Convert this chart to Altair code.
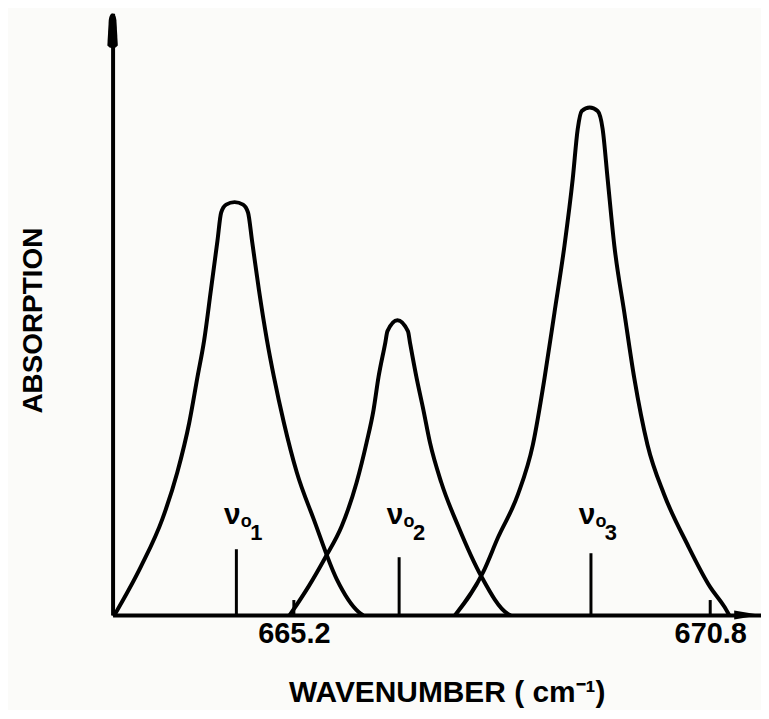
import altair as alt
import pandas as pd

# ---- data: wavenumber (cm^-1) and absorption (arb. units) ----
p1_w = [662.788, 663.146, 663.430, 663.632, 663.793, 663.904, 663.994, 664.084, 664.173, 664.222,
        664.289, 664.403, 664.517, 664.584, 664.637, 664.731, 664.838, 664.932, 665.066, 665.240,
        665.468, 665.776, 666.071, 666.124]
p1_a = [0, 0.49, 0.96, 1.43, 1.93, 2.39, 2.76, 3.26, 3.76, 4.04,
        4.12, 4.145, 4.12, 4.04, 3.76, 3.26, 2.76, 2.39, 1.93, 1.43,
        0.96, 0.36, 0.03, 0]

p2_w = [665.146, 665.401, 665.625, 665.843, 666.044, 666.178, 666.272, 666.339, 666.429, 666.459,
        666.593, 666.734, 666.763, 666.848, 666.942, 667.031, 667.183, 667.411, 667.719, 668.080,
        668.107]
p2_a = [0, 0.29, 0.58, 0.89, 1.33, 1.73, 2.06, 2.39, 2.73, 2.85,
        2.96, 2.85, 2.73, 2.39, 2.06, 1.73, 1.33, 0.89, 0.39, 0.01,
        0]

p3_w = [667.370, 667.746, 667.947, 668.214, 668.415, 668.572, 668.706, 668.840, 668.951, 669.018,
        669.072, 669.179, 669.286, 669.353, 669.420, 669.510, 669.644, 669.778, 669.956, 670.180,
        670.492, 670.800, 670.984, 671.055]
p3_a = [0, 0.43, 0.78, 1.21, 1.71, 2.38, 3.04, 3.71, 4.38, 4.88,
        5.06, 5.095, 5.06, 4.88, 4.38, 3.71, 3.04, 2.38, 1.71, 1.21,
        0.71, 0.28, 0.09, 0]

centers = [664.427, 666.616, 669.196]          # band centres ν01, ν02, ν03
center_marks = [0.66, 0.58, 0.62]              # height of the centre markers
label_level = [0.91, 0.91, 0.91]               # label baseline level
digits = ["1", "2", "3"]

tick_values = [665.2, 670.8]
tick_marks = [0.15, 0.15]

x_domain = [662.762, 671.483]
y_domain = [0, 6.04]
arrow_x = [671.303]   # x-axis arrow head position
arrow_y = [5.865]     # y-axis arrow head position

# ---- tables ----
curves = pd.concat([
    pd.DataFrame({"w": p1_w, "a": p1_a, "peak": "1"}),
    pd.DataFrame({"w": p2_w, "a": p2_a, "peak": "2"}),
    pd.DataFrame({"w": p3_w, "a": p3_a, "peak": "3"}),
], ignore_index=True)
cent = pd.DataFrame({"w": centers, "a": [0, 0, 0], "a2": center_marks,
                     "lab": label_level, "d": digits})
ticks = pd.DataFrame({"w": tick_values, "a": [0, 0], "a2": tick_marks})
xarrow = pd.DataFrame({"w": arrow_x, "a": [0]})
yarrow = pd.DataFrame({"w": [x_domain[0]], "a": arrow_y})

FONT = "Liberation Sans"
x_scale = alt.Scale(domain=x_domain, nice=False, zero=False)
y_scale = alt.Scale(domain=y_domain, nice=False, zero=False)

x_axis = alt.Axis(values=tick_values, format=".1f", ticks=False, tickSize=0, grid=False,
                  domainColor="black", domainWidth=4,
                  labelFont=FONT, labelFontSize=29, labelFontWeight="bold", labelColor="black",
                  labelPadding=5, labelOverlap=False,
                  title="WAVENUMBER ( cm\u207b\u00b9)", titleFont=FONT,
                  titleFontSize=30, titleFontWeight="bold", titleColor="black",
                  titleX=335.5, titleY=87, titleBaseline="alphabetic", titleAlign="center")
y_axis = alt.Axis(labels=False, ticks=False, tickSize=0, grid=False,
                  domainColor="black", domainWidth=4,
                  title="ABSORPTION", titleFont=FONT, titleFontSize=28, titleFontWeight="bold",
                  titleColor="black", titleAngle=270,
                  titleX=-71, titleY=308, titleBaseline="alphabetic", titleAlign="center")

X = alt.X("w:Q", scale=x_scale, axis=x_axis)
Y = alt.Y("a:Q", scale=y_scale, axis=y_axis)

lines = alt.Chart(curves).mark_line(color="black", strokeWidth=4, interpolate="monotone",
                                    strokeCap="round", strokeJoin="round").encode(
    x=X, y=Y, detail="peak:N")

center_rules = alt.Chart(cent).mark_rule(color="black", strokeWidth=3).encode(
    x=X, y=Y, y2="a2:Q")
tick_rules = alt.Chart(ticks).mark_rule(color="black", strokeWidth=3).encode(
    x=X, y=Y, y2="a2:Q")

nu = alt.Chart(cent).mark_text(text="\u03bd", font=FONT, fontSize=30, fontWeight="bold",
                               color="black", baseline="alphabetic", align="center", dx=-4).encode(
    x=X, y=alt.Y("lab:Q", scale=y_scale))
sub_o = alt.Chart(cent).mark_text(text="o", font=FONT, fontSize=18, fontWeight="bold",
                                  color="black", baseline="alphabetic", align="center", dx=10, dy=3).encode(
    x=X, y=alt.Y("lab:Q", scale=y_scale))
sub_d = alt.Chart(cent).mark_text(font=FONT, fontSize=22, fontWeight="bold",
                                  color="black", baseline="alphabetic", align="center", dx=20, dy=16).encode(
    x=X, y=alt.Y("lab:Q", scale=y_scale), text="d:N")

x_head = alt.Chart(xarrow).mark_point(shape="M1,0L-1,-0.34L-1,0.34Z", size=729, filled=True,
                                      color="black", opacity=1).encode(x=X, y=Y)
y_head = alt.Chart(yarrow).mark_point(
    shape="M0,-1C0.14,-1 0.2,-0.8 0.22,-0.6L0.3,0.85Q0.2,1 0,1Q-0.2,1 -0.3,0.85L-0.22,-0.6C-0.2,-0.8 -0.14,-1 0,-1Z",
    size=1225, filled=True, color="black", opacity=1).encode(x=X, y=Y)

chart = alt.layer(lines, center_rules, tick_rules, nu, sub_o, sub_d, x_head, y_head).properties(
    width=651, height=604,
    autosize=alt.AutoSizeParams(type="none"),
    padding={"left": 105, "top": 4, "right": 0, "bottom": 94},
    background="#fbfbf9",
).configure_view(stroke=None)

chart.save("out.html", embed_options={"renderer": "svg", "actions": False})
